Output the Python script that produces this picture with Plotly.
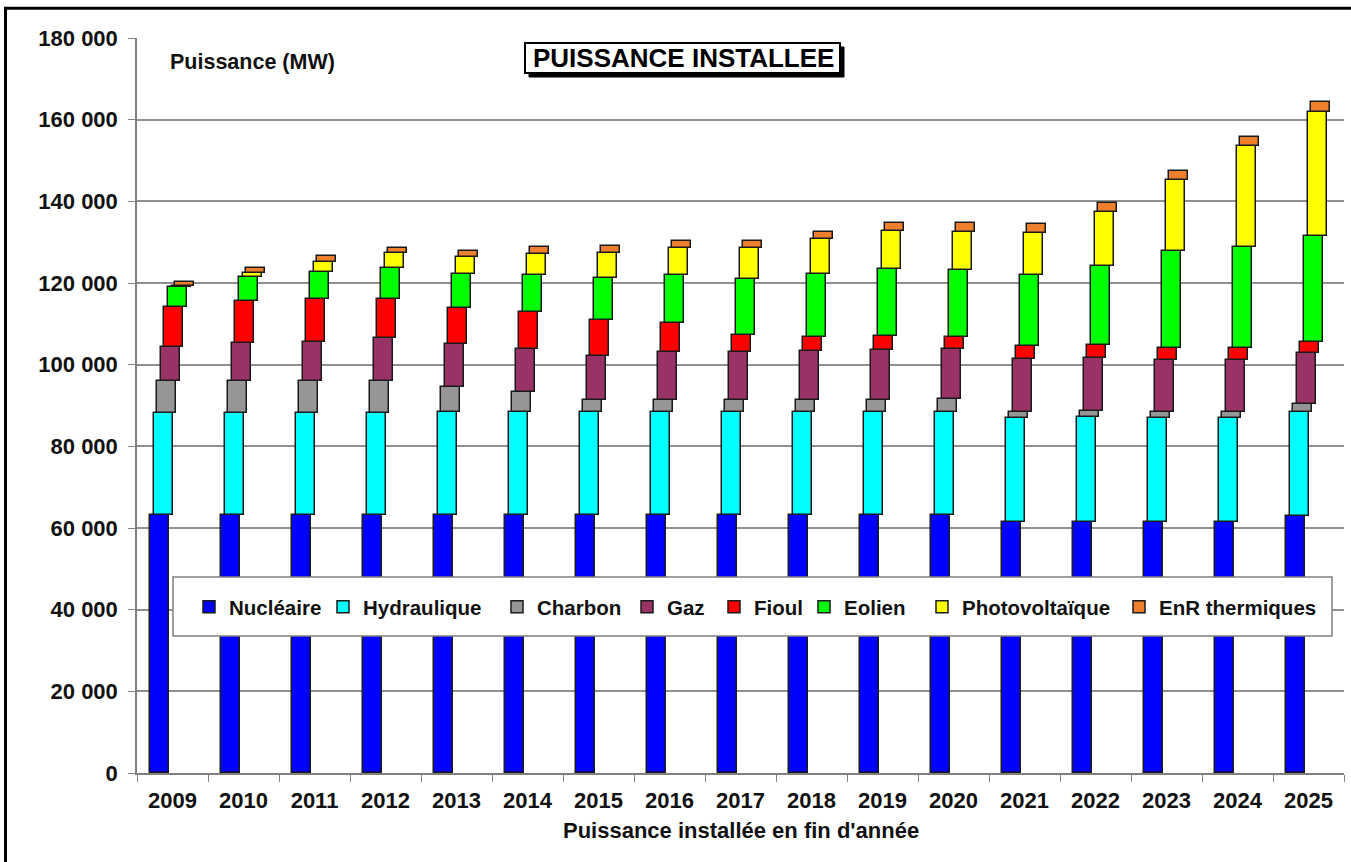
import numpy as np
import plotly.graph_objects as go

years = [str(y) for y in range(2009, 2026)]

nucleaire = [63130, 63130, 63130, 63130, 63130, 63130, 63130, 63130, 63130, 63130, 63130, 63130, 61370, 61370, 61370, 61370, 63020]
hydraulique = [24960, 24960, 25110, 25110, 25200, 25200, 25200, 25200, 25200, 25200, 25200, 25360, 25490, 25740, 25490, 25490, 25470]
charbon = [7980, 7980, 7830, 7830, 6280, 4980, 3020, 3020, 3020, 3020, 3020, 3020, 1630, 1620, 1630, 1630, 1800]
gaz = [8180, 9160, 9560, 10540, 10370, 10450, 10850, 11680, 11830, 12070, 12240, 12330, 12820, 12830, 12650, 12650, 12490]
fioul = [9950, 10360, 10370, 9390, 8820, 9060, 8740, 7100, 4090, 3430, 3430, 2860, 3340, 3260, 3020, 3020, 2850]
eolien = [4750, 5810, 6770, 7600, 8330, 9140, 10210, 11830, 13640, 15280, 16410, 16480, 17310, 19420, 23680, 24730, 25960]
photovoltaique = [200, 980, 2450, 3670, 4320, 5140, 6120, 6540, 7590, 8570, 9380, 9390, 10210, 13070, 17390, 24660, 30370]
enr_thermiques = [1100, 1220, 1390, 1230, 1470, 1640, 1790, 1860, 1860, 1870, 1960, 2050, 2210, 2210, 2270, 2280, 2440]

series_names = ["Nucléaire", "Hydraulique", "Charbon", "Gaz", "Fioul", "Eolien", "Photovoltaïque", "EnR thermiques"]
series_values = [nucleaire, hydraulique, charbon, gaz, fioul, eolien, photovoltaique, enr_thermiques]
series_colors = ["#0000FF", "#00FFFF", "#969696", "#993366", "#FF0000", "#00FF00", "#FFFF00", "#EE7F2D"]

# plot area geometry (pixels)
W, H = 1351, 862
L, R, T, B = 137, 1344, 38, 773
PW, PH = R - L, B - T


def px(x):
    return (x - L) / PW


def py(y):
    return (B - y) / PH


FONT = "Liberation Sans, Arial, sans-serif"

# legend marker centres (pixels) for each series
legend_marker_x = [210, 344, 518, 648, 735, 825, 943, 1140]

fig = go.Figure()
bases = np.zeros(len(years))
bar_w = 0.268
shift = 0.0507
legends = {}
for i, (name, vals, col) in enumerate(zip(series_names, series_values, series_colors)):
    v = np.array(vals, dtype=float)
    lg = "legend" if i == 0 else f"legend{i + 1}"
    fig.add_trace(go.Bar(
        x=years, y=v, base=bases.copy(), name=name, legend=lg,
        offset=-0.317 + i * shift, width=bar_w,
        marker=dict(color=col, line=dict(color="#1a1a1a", width=1.5)),
    ))
    bases = bases + v
    legends[lg] = dict(
        orientation="h", x=px(legend_marker_x[i] - 21), y=py(607),
        xanchor="left", yanchor="middle", bgcolor="rgba(0,0,0,0)", borderwidth=0,
        font=dict(family=FONT, size=20.5, color="#111", weight="bold"),
        itemclick=False, itemdoubleclick=False,
    )

shapes = [
    # legend box (hides lower part of bars)
    dict(type="rect", xref="paper", yref="paper", x0=px(173), x1=px(1332), y0=py(636), y1=py(577),
         fillcolor="white", line=dict(color="#808080", width=1.5), layer="above"),
    # title shadow + box
    dict(type="rect", xref="paper", yref="paper", x0=px(529), x1=px(844), y0=py(77), y1=py(47),
         fillcolor="black", line=dict(color="black", width=1), layer="above"),
    dict(type="rect", xref="paper", yref="paper", x0=px(525), x1=px(840), y0=py(73), y1=py(43),
         fillcolor="white", line=dict(color="black", width=2), layer="above"),
    # outer frame
    dict(type="rect", xref="paper", yref="paper", x0=px(5.5), x1=px(1380), y0=py(900), y1=py(8.3),
         fillcolor="rgba(0,0,0,0)", line=dict(color="black", width=3), layer="above"),
]

annotations = [
    dict(text="PUISSANCE INSTALLEE", xref="paper", yref="paper", x=px(683), y=py(58),
         xanchor="center", yanchor="middle", showarrow=False,
         font=dict(family=FONT, size=26, color="black", weight="bold")),
    dict(text="Puissance (MW)", xref="paper", yref="paper", x=px(168), y=py(62),
         xanchor="left", yanchor="middle", showarrow=False,
         font=dict(family=FONT, size=21.5, color="#111", weight="bold")),
    dict(text="Puissance installée en fin d'année", xref="paper", yref="paper", x=px(741), y=py(830),
         xanchor="center", yanchor="middle", showarrow=False,
         font=dict(family=FONT, size=22, color="#111", weight="bold")),
]

fig.update_layout(
    width=W, height=H,
    margin=dict(l=L, r=W - R, t=T, b=H - B, pad=0),
    paper_bgcolor="white", plot_bgcolor="white",
    barmode="overlay",
    separators=", ",
    showlegend=True,
    xaxis=dict(type="category", tickson="boundaries", ticks="outside", ticklen=7, tickcolor="#808080",
               showline=True, linecolor="#808080", linewidth=1.5, showgrid=False,
               tickfont=dict(family=FONT, size=22, color="#111", weight="bold"),
               ticklabelstandoff=7, range=[-0.5, 16.5]),
    yaxis=dict(range=[0, 180000], dtick=20000, tickformat=",.0f", ticks="outside", ticklen=7,
               tickcolor="#808080", showline=True, linecolor="#808080", linewidth=1.5,
               showgrid=True, gridcolor="#909090", gridwidth=1.5, zeroline=False,
               tickfont=dict(family=FONT, size=22, color="#111", weight="bold"),
               ticklabelstandoff=6),
    shapes=shapes,
    annotations=annotations,
    bargap=0,
    **legends,
)

fig.write_html(
    "out.html",
    config={"displayModeBar": False},
    post_script="document.body.style.margin='0';document.body.style.overflow='hidden';",
)
